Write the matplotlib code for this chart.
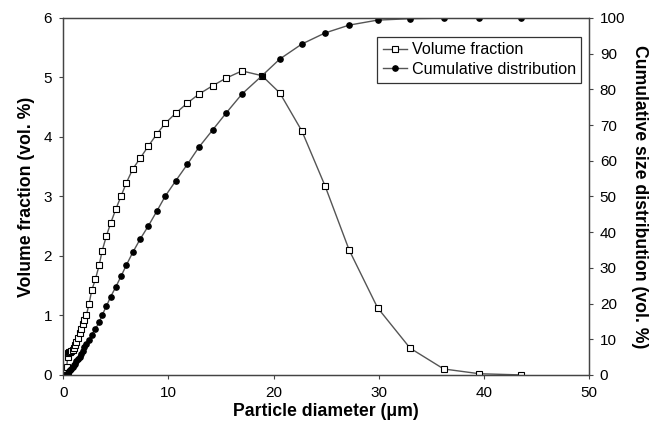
import numpy as np
import matplotlib
matplotlib.use("Agg")
import matplotlib.pyplot as plt

plt.rcParams['font.family'] = ['Liberation Sans', 'DejaVu Sans']

# particle diameters (um)
diameter = [0.26, 0.33, 0.40, 0.48, 0.57, 0.66, 0.76, 0.88, 1.0, 1.12,
            1.25, 1.4, 1.55, 1.7, 1.85, 2.0, 2.2, 2.45, 2.7, 3.05,
            3.4, 3.7, 4.1, 4.5, 5.0, 5.5, 6.0, 6.6, 7.3, 8.1,
            8.9, 9.7, 10.7, 11.8, 12.9, 14.2, 15.5, 17.0, 18.9, 20.6,
            22.7, 24.9, 27.2, 29.9, 33.0, 36.2, 39.6, 43.6]

# volume fraction (vol. %)
vol_frac = [0.0, 0.14, 0.30, 0.37, 0.39, 0.39, 0.40, 0.42, 0.46, 0.50,
            0.55, 0.62, 0.70, 0.78, 0.86, 0.93, 1.01, 1.20, 1.42, 1.61,
            1.84, 2.09, 2.34, 2.55, 2.79, 3.01, 3.23, 3.46, 3.64, 3.85,
            4.05, 4.23, 4.40, 4.57, 4.72, 4.86, 4.99, 5.11, 5.03, 4.74,
            4.10, 3.18, 2.10, 1.13, 0.45, 0.10, 0.02, 0.0]

# cumulative distribution (vol. %)
cumulative = [0.0, 0.1, 0.3, 0.6, 1.0, 1.4, 1.8, 2.2, 2.7, 3.2,
              3.8, 4.4, 5.1, 5.9, 6.8, 7.7, 8.7, 9.9, 11.3, 12.9,
              14.7, 16.8, 19.3, 21.9, 24.7, 27.7, 30.8, 34.3, 38.0, 41.8,
              45.9, 50.1, 54.4, 59.0, 63.8, 68.6, 73.4, 78.7, 83.8, 88.5,
              92.7, 95.8, 98.0, 99.4, 99.8, 99.95, 100.0, 100.0]

fig = plt.figure(figsize=(6.6, 4.28), dpi=100)
ax = fig.add_axes([0.096, 0.124, 0.796, 0.834])
ax2 = ax.twinx()

line_col = '#555555'
l1, = ax.plot(diameter, vol_frac, '-', color=line_col, lw=1.0,
              marker='s', ms=4.2, mfc='white', mec='black', mew=0.8,
              label='Volume fraction')
l2, = ax2.plot(diameter, cumulative, '-', color=line_col, lw=1.0,
               marker='o', ms=3.8, mfc='black', mec='black',
               label='Cumulative distribution')

ax.set_xlim(0, 50)
ax.set_ylim(0, 6)
ax2.set_ylim(0, 100)
ax.set_xticks(range(0, 51, 10))
ax.set_yticks(range(0, 7))
ax2.set_yticks(range(0, 101, 10))

for a in (ax, ax2):
    a.tick_params(direction='out', length=3, width=0.8, labelsize=11,
                  color='#444444', pad=5)
    for s in a.spines.values():
        s.set_color('#444444')
        s.set_linewidth(0.9)

ax.set_xlabel('Particle diameter (\u03bcm)', fontsize=12.7, fontweight='bold',
              labelpad=2)
ax.set_ylabel('Volume fraction (vol. %)', fontsize=12.7, fontweight='bold',
              labelpad=6)
ax2.set_ylabel('Cumulative size distribution (vol. %)', fontsize=12.7,
               fontweight='bold', rotation=270, labelpad=16)

leg = ax2.legend(handles=[l1, l2], loc='upper left',
                 bbox_to_anchor=(0.597, 0.948), fontsize=11.6, frameon=True,
                 fancybox=False, edgecolor='black', handlelength=1.5,
                 handletextpad=0.3, borderpad=0.35, labelspacing=0.3,
                 borderaxespad=0)
leg.get_frame().set_linewidth(0.9)

fig.savefig('out.png', dpi=100)
